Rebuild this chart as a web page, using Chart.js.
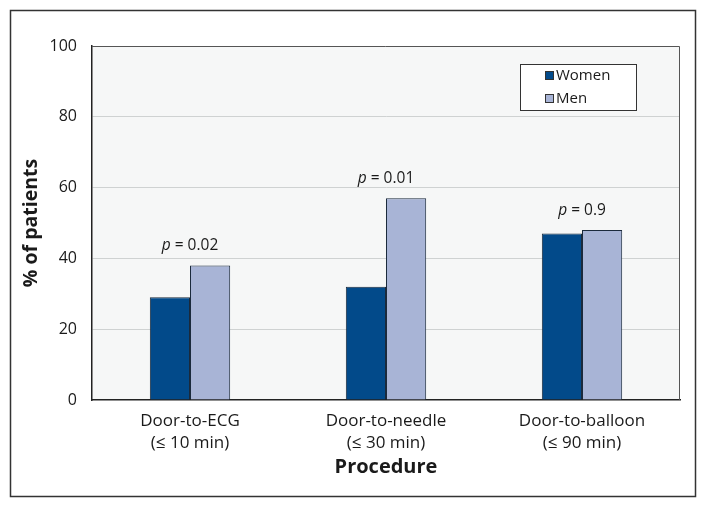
<!DOCTYPE html>
<html>
<head>
<meta charset="utf-8">
<script src="https://cdn.jsdelivr.net/npm/chart.js@4/dist/chart.umd.min.js"></script>
<style>
html,body{margin:0;padding:0;background:#fff;}
#wrap{width:705px;height:507px;position:relative;}
</style>
</head>
<body>
<div id="wrap"><canvas id="c" width="705" height="507"></canvas></div>
<script>
const categories = [["Door-to-ECG", "(≤ 10 min)"], ["Door-to-needle", "(≤ 30 min)"], ["Door-to-balloon", "(≤ 90 min)"]];
const women = [29, 32, 47];
const men = [38, 57, 48];
const pValues = ["0.02", "0.01", "0.9"];
const yTicks = [0, 20, 40, 60, 80, 100];

const FONT = "'Open Sans', 'Noto Sans', sans-serif";

const decor = {
  id: 'decor',
  beforeDraw(chart) {
    const {ctx, chartArea: a} = chart;
    ctx.save();
    ctx.fillStyle = '#ffffff';
    ctx.fillRect(0, 0, chart.width, chart.height);
    ctx.strokeStyle = '#333';
    ctx.lineWidth = 1.5;
    ctx.strokeRect(10.5, 10.5, 685, 486);
    ctx.fillStyle = '#f6f7f7';
    ctx.fillRect(a.left, a.top, a.right - a.left, a.bottom - a.top);
    ctx.restore();
  },
  afterDatasetsDraw(chart) {
    const {ctx, chartArea: a} = chart;
    const xs = chart.scales.x, ys = chart.scales.y;
    ctx.save();
    ctx.strokeStyle = '#555';
    ctx.lineWidth = 1;
    ctx.beginPath();
    ctx.moveTo(a.left, a.top + 0.5);
    ctx.lineTo(a.right - 0.5, a.top + 0.5);
    ctx.lineTo(a.right - 0.5, a.bottom);
    ctx.stroke();
    ctx.fillStyle = '#1a1a1a';
    ctx.textBaseline = 'middle';
    pValues.forEach((p, i) => {
      const cx = xs.getPixelForValue(i);
      const top = ys.getPixelForValue(Math.max(women[i], men[i]));
      const y = top - 20;
      ctx.font = 'italic 15.5px ' + FONT;
      const pw = ctx.measureText('p').width;
      ctx.font = '15.5px ' + FONT;
      const rest = ' = ' + p;
      const rw = ctx.measureText(rest).width;
      const x0 = cx - (pw + rw) / 2;
      ctx.textAlign = 'left';
      ctx.font = 'italic 15.5px ' + FONT;
      ctx.fillText('p', x0, y);
      ctx.font = '15.5px ' + FONT;
      ctx.fillText(rest, x0 + pw, y);
    });
    const lx = 520, ly = 64, lw = 116, lh = 46;
    ctx.fillStyle = '#ffffff';
    ctx.fillRect(lx, ly, lw, lh);
    ctx.strokeStyle = '#333';
    ctx.lineWidth = 1;
    ctx.strokeRect(lx + 0.5, ly + 0.5, lw, lh);
    chart.data.datasets.forEach((ds, i) => {
      const cy = ly + 11.5 + i * 23;
      ctx.fillStyle = ds.backgroundColor;
      ctx.fillRect(545, cy - 4.5, 9, 9);
      ctx.strokeStyle = '#333';
      ctx.strokeRect(545.5, cy - 4, 8, 8);
      ctx.fillStyle = '#1a1a1a';
      ctx.font = '15px ' + FONT;
      ctx.textAlign = 'left';
      ctx.fillText(ds.label, 556, cy);
    });
    ctx.restore();
  }
};

new Chart(document.getElementById('c'), {
  type: 'bar',
  data: {
    labels: categories,
    datasets: [
      {label: 'Women', data: women, backgroundColor: '#024a8a', borderColor: '#1b2a3c', borderWidth: 1, borderSkipped: 'bottom'},
      {label: 'Men', data: men, backgroundColor: '#a8b4d6', borderColor: '#1b2a3c', borderWidth: 1, borderSkipped: 'bottom'}
    ]
  },
  options: {
    responsive: false,
    animation: false,
    layout: {padding: {left: 0, top: 46, right: 25, bottom: 30}},
    plugins: {legend: {display: false}, tooltip: {enabled: false}},
    datasets: {bar: {barPercentage: 1.0, categoryPercentage: 0.41}},
    scales: {
      x: {
        grid: {display: false, drawTicks: false},
        border: {display: true, color: '#222', width: 1.5},
        ticks: {color: '#1a1a1a', font: {family: FONT, size: 17, lineHeight: 1.3}, padding: 10, maxRotation: 0},
        title: {display: true, text: 'Procedure', color: '#1a1a1a', font: {family: FONT, size: 20, weight: 'bold'}, padding: {top: 0, bottom: -2}},
        afterFit(s) { s.height = 77; }
      },
      y: {
        min: 0, max: 100,
        afterBuildTicks(s) { s.ticks = yTicks.map(v => ({value: v})); },
        grid: {color: ctx => (ctx.tick && (ctx.tick.value === 0 || ctx.tick.value === 100)) ? 'rgba(0,0,0,0)' : '#cfd2d2', lineWidth: 1, drawTicks: false},
        border: {display: true, color: '#222', width: 1.5},
        ticks: {color: '#1a1a1a', font: {family: FONT, size: 16}, padding: 15},
        title: {display: true, text: '% of patients', color: '#1a1a1a', font: {family: FONT, size: 19.5, weight: 'bold'}, padding: {top: 20, bottom: 0}},
        afterFit(s) { s.width = 92; }
      }
    }
  },
  plugins: [decor]
});
</script>
</body>
</html>
